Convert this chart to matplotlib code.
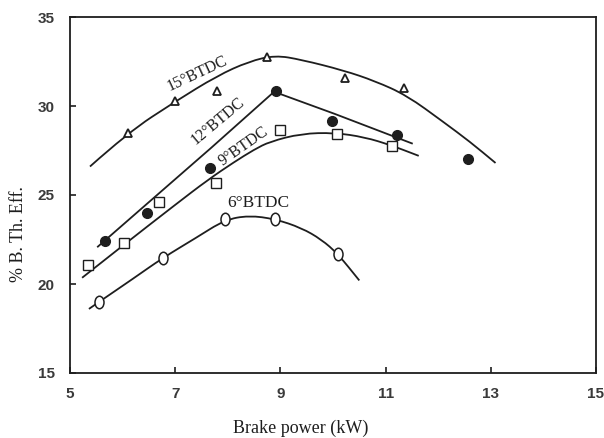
import numpy as np
import matplotlib
matplotlib.use('Agg')
import matplotlib.pyplot as plt
from matplotlib.path import Path
from matplotlib.patches import PathPatch
from matplotlib.transforms import Affine2D

# measured points
bt15_x = [6.1, 7.0, 7.8, 8.75, 10.22, 11.35]
bt15_y = [28.5, 30.3, 30.85, 32.75, 31.6, 31.0]
bt12_x = [5.67, 6.47, 7.66, 8.92, 9.99, 11.21, 12.57]
bt12_y = [22.4, 24.0, 26.5, 30.85, 29.15, 28.35, 27.0]
bt9_x = [5.34, 6.03, 6.70, 7.77, 9.0, 10.07, 11.12]
bt9_y = [21.07, 22.3, 24.6, 25.7, 28.65, 28.4, 27.75]
bt6_x = [5.55, 6.76, 7.94, 8.9, 10.09]
bt6_y = [19.0, 21.46, 23.65, 23.65, 21.7]

# hand drawn curves through the points
c15_x = [5.38, 6.1, 7.0, 7.8, 8.4, 8.9, 9.4, 10.2, 10.8, 11.4, 12.1, 12.6, 13.09]
c15_y = [26.6, 28.5, 30.25, 31.7, 32.5, 32.85, 32.6, 32.0, 31.4, 30.6, 29.1, 28.0, 26.8]
c12_x = [5.53, 7.68, 8.88, 10.03, 11.5]
c12_y = [22.1, 27.64, 30.8, 29.56, 27.9]
c9_x = [5.23, 6.0, 7.0, 7.62, 8.12, 8.5, 8.8, 9.4, 10.03, 10.6, 11.1, 11.63]
c9_y = [20.35, 22.15, 24.45, 25.85, 26.85, 27.55, 28.0, 28.45, 28.5, 28.25, 27.8, 27.2]
c6_x = [5.36, 5.55, 6.2, 6.76, 7.4, 7.94, 8.4, 8.9, 9.4, 9.78, 10.09, 10.5]
c6_y = [18.6, 18.99, 20.3, 21.46, 22.6, 23.6, 23.85, 23.65, 23.15, 22.5, 21.7, 20.2]

xticks = [5, 7, 9, 11, 13, 15]
yticks = [15, 20, 25, 30, 35]

ink = '#1e1e1e'
serif = ['Liberation Serif', 'DejaVu Serif']
tickfont = ['Liberation Sans Narrow', 'Liberation Sans', 'DejaVu Sans']


def smooth_curve(ax, xs, ys):
  # quadratic bezier pieces using the read points as control points
  verts = [(xs[0], ys[0])]
  codes = [Path.MOVETO]
  for i in range(1, len(xs) - 1):
    verts.append((xs[i], ys[i]))
    verts.append(((xs[i] + xs[i+1]) / 2, (ys[i] + ys[i+1]) / 2))
    codes += [Path.CURVE3, Path.CURVE3]
  verts.append((xs[-1], ys[-1]))
  codes.append(Path.LINETO)
  ax.add_patch(PathPatch(Path(verts, codes), fill=False, edgecolor=ink, lw=1.3, zorder=2))


fig = plt.figure(figsize=(6.04, 4.38), dpi=100)
ax = fig.add_axes([70/604, 65/438, 526/604, 356/438])

smooth_curve(ax, c15_x, c15_y)
ax.plot(c12_x, c12_y, color=ink, lw=1.3, zorder=2)
smooth_curve(ax, c9_x, c9_y)
smooth_curve(ax, c6_x, c6_y)

# tall "O" marker
oval = Path.unit_circle().transformed(Affine2D().scale(0.72, 1.0))

ax.plot(bt15_x, bt15_y, ls='none', marker='^', ms=5.5, mfc='white', mec=ink, mew=1.3, zorder=3)
ax.plot(bt12_x, bt12_y, ls='none', marker='o', ms=7, mfc=ink, mec=ink, zorder=3)
ax.plot(bt9_x, bt9_y, ls='none', marker='s', ms=7.5, mfc='white', mec=ink, mew=1.0, zorder=3)
ax.plot(bt6_x, bt6_y, ls='none', marker=oval, ms=9, mfc='white', mec=ink, mew=1.1, zorder=3)

ax.text(7.43, 31.8, '15°BTDC', rotation=25, rotation_mode='anchor', ha='center', va='center',
        family=serif, fontsize=11.5, color=ink)
ax.text(7.81, 29.16, '12°BTDC', rotation=40, rotation_mode='anchor', ha='center', va='center',
        family=serif, fontsize=11.5, color=ink)
ax.text(8.29, 27.75, '9°BTDC', rotation=35, rotation_mode='anchor', ha='center', va='center',
        family=serif, fontsize=11.5, color=ink)
ax.text(8.58, 24.55, '6°BTDC', ha='center', va='center', family=serif, fontsize=12.5, color=ink)

ax.set_xlim(5, 15)
ax.set_ylim(15, 35)
ax.set_xticks(xticks)
ax.set_yticks(yticks)
ax.set_xticklabels([str(t) for t in xticks], family=tickfont, fontsize=11, weight='bold', color='#3a3a3a')
ax.set_yticklabels([str(t) for t in yticks], family=tickfont, fontsize=11, weight='bold', color='#3a3a3a')
ax.tick_params(direction='in', length=4, width=1.2, color=ink)
ax.tick_params(axis='x', pad=10)
ax.tick_params(axis='y', pad=11)
for s in ax.spines.values():
  s.set_color(ink)
  s.set_linewidth(1.3)

fig.text(301/604, 1 - 428/438, 'Brake power (kW)', ha='center', va='center',
         family=serif, fontsize=13, color=ink)
fig.text(19/604, 1 - 234/438, '% B. Th. Eff.', ha='center', va='center', rotation=90,
         family=serif, fontsize=13, color=ink)

fig.savefig('out.png', dpi=100, facecolor='white')
